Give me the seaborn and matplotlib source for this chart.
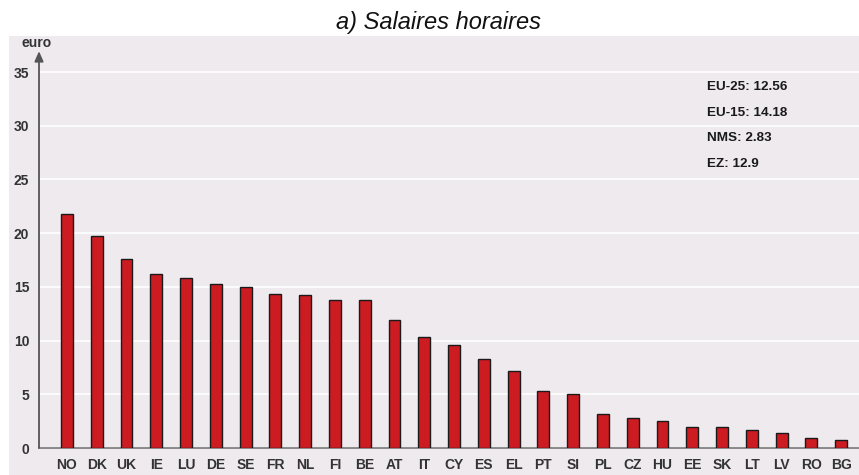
import matplotlib
matplotlib.use("Agg")
import matplotlib.pyplot as plt
import seaborn as sns
import pandas as pd
from matplotlib.patches import Rectangle

# hourly wages, euro
countries = ["NO", "DK", "UK", "IE", "LU", "DE", "SE", "FR", "NL", "FI", "BE", "AT", "IT",
             "CY", "ES", "EL", "PT", "SI", "PL", "CZ", "HU", "EE", "SK", "LT", "LV", "RO", "BG"]
wages = [21.8, 19.7, 17.6, 16.2, 15.8, 15.3, 15.0, 14.3, 14.2, 13.8, 13.8, 11.9, 10.3,
         9.6, 8.3, 7.2, 5.3, 5.0, 3.2, 2.8, 2.5, 2.0, 2.0, 1.7, 1.4, 0.9, 0.7]
aggregates = ["EU-25: 12.56", "EU-15: 14.18", "NMS: 2.83", "EZ: 12.9"]

df = pd.DataFrame({"country": countries, "wage": wages})

sns.set_theme(style="white")
plt.rcParams["font.family"] = ["Liberation Sans", "DejaVu Sans"]

bg = "#EEEAEE"
fig = plt.figure(figsize=(8.59, 4.75), dpi=100)
fig.patches.append(Rectangle((9 / 859, 0), 1 - 9 / 859, 1 - 36 / 475,
                             transform=fig.transFigure, facecolor=bg, edgecolor="none", zorder=0))

ax = fig.add_axes([39 / 859, 27 / 475, 1 - 39 / 859, 0.8366])
ax.set_zorder(2)
ax.set_facecolor(bg)

sns.barplot(data=df, x="country", y="wage", color="#CC1C22", width=0.4,
            edgecolor="#1a1a1a", linewidth=1.0, saturation=1, ax=ax, zorder=3)

ax.set_xlim(-0.94, 26.6)
ax.set_ylim(0, 37)
ax.set_yticks([0, 5, 10, 15, 20, 25, 30, 35])
ax.yaxis.grid(True, color="white", linewidth=1.2, zorder=0)
ax.set_axisbelow(True)
ax.set_xlabel("")
ax.set_ylabel("")

for s in ["top", "right"]:
    ax.spines[s].set_visible(False)
ax.spines["left"].set_visible(False)
ax.spines["bottom"].set_color("#777777")
ax.spines["bottom"].set_linewidth(1.2)

# y axis drawn as an arrow
ax.annotate("", xy=(-0.94, 36.95), xytext=(-0.94, 0), xycoords="data",
            arrowprops=dict(arrowstyle="-|>,head_width=0.22,head_length=0.5",
                            color="#555555", lw=1.3, shrinkA=0, shrinkB=0),
            annotation_clip=False)
fig.text(37 / 859, 1 - 43 / 475, "euro", ha="center", va="center",
         fontsize=10, fontweight="bold", color="#333333", zorder=5)

ax.tick_params(axis="both", length=0, labelsize=10, labelcolor="#333333")
ax.tick_params(axis="y", pad=7)
ax.tick_params(axis="x", pad=7)
for lab in ax.get_xticklabels() + ax.get_yticklabels():
    lab.set_fontweight("bold")

for i, t in enumerate(aggregates):
    fig.text(707 / 859, 1 - (87 + i * 25.7) / 475, t, ha="left", va="center",
             fontsize=9.7, fontweight="bold", color="#1a1a1a", zorder=5)

fig.text(438.5 / 859, 1 - 23 / 475, "a) Salaires horaires", ha="center", va="center",
         fontsize=17, style="italic", color="#111111")

fig.savefig("out.png", dpi=100, facecolor="white")
